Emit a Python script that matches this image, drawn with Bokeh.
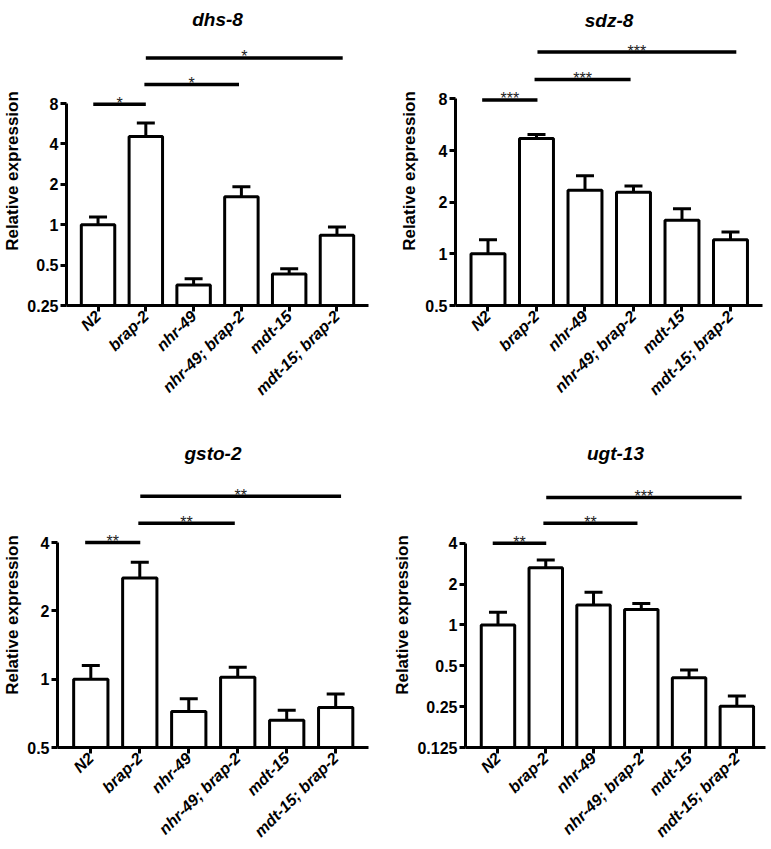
import math
from bokeh.plotting import figure
from bokeh.models import (ColumnDataSource, Range1d, FixedTicker, Whisker, TeeHead)
from bokeh.layouts import column, row
from bokeh.core.properties import value
from bokeh.embed import file_html
from bokeh.resources import INLINE

# ---------------- data ----------------
categories = ["N2", "brap-2", "nhr-49", "nhr-49; brap-2", "mdt-15", "mdt-15; brap-2"]

dhs8_mean = [1.0, 4.55, 0.356, 1.62, 0.43, 0.835]
dhs8_err_top = [1.14, 5.73, 0.395, 1.92, 0.47, 0.96]
dhs8_yticks = [0.25, 0.5, 1, 2, 4, 8]
dhs8_yticklabels = ["0.25", "0.5", "1", "2", "4", "8"]
dhs8_sig_x0 = [-0.1, 0.97, 1.0]
dhs8_sig_x1 = [1.0, 2.95, 5.12]
dhs8_sig_y = [7.9, 11.1, 17.5]
dhs8_sig_text = ["*", "*", "*"]

sdz8_mean = [1.0, 4.7, 2.35, 2.29, 1.57, 1.21]
sdz8_err_top = [1.21, 4.96, 2.85, 2.49, 1.83, 1.34]
sdz8_yticks = [0.5, 1, 2, 4, 8]
sdz8_yticklabels = ["0.5", "1", "2", "4", "8"]
sdz8_sig_x0 = [-0.12, 0.96, 1.02]
sdz8_sig_x1 = [1.02, 2.94, 5.12]
sdz8_sig_y = [7.9, 10.4, 15.0]
sdz8_sig_text = ["***", "***", "***"]

gsto2_mean = [1.0, 2.79, 0.72, 1.02, 0.66, 0.75]
gsto2_err_top = [1.15, 3.28, 0.82, 1.13, 0.73, 0.86]
gsto2_yticks = [0.5, 1, 2, 4]
gsto2_yticklabels = ["0.5", "1", "2", "4"]
gsto2_sig_x0 = [-0.115, 0.97, 1.01]
gsto2_sig_x1 = [1.01, 2.94, 5.11]
gsto2_sig_y = [4.0, 4.87, 6.4]
gsto2_sig_text = ["**", "**", "**"]

ugt13_mean = [1.0, 2.64, 1.40, 1.30, 0.408, 0.252]
ugt13_err_top = [1.24, 3.01, 1.74, 1.44, 0.466, 0.30]
ugt13_yticks = [0.125, 0.25, 0.5, 1, 2, 4]
ugt13_yticklabels = ["0.125", "0.25", "0.5", "1", "2", "4"]
ugt13_sig_x0 = [-0.11, 0.95, 1.01]
ugt13_sig_x1 = [1.01, 2.92, 5.10]
ugt13_sig_y = [4.0, 5.6, 8.7]
ugt13_sig_text = ["**", "**", "***"]

FONT = "Liberation Sans"


def make_panel(title, mean, err_top, yticks, yticklabels, sig_x0, sig_x1, sig_y, sig_text,
               width, height, y_top, x_lo, x_hi, mb_left, mb_right, mb_top, mb_bottom,
               title_standoff, title_valign, ylabel_standoff):
    x = list(range(len(categories)))
    p = figure(width=width, height=height, output_backend="svg", toolbar_location=None,
               y_axis_type="log",
               x_range=Range1d(x_lo, x_hi), y_range=Range1d(yticks[0], y_top),
               min_border_left=mb_left, min_border_right=mb_right,
               min_border_top=mb_top, min_border_bottom=mb_bottom)
    p.outline_line_color = None
    p.grid.visible = False
    p.background_fill_color = "white"
    p.border_fill_color = "white"

    p.title.text = title
    p.title.align = "center"
    p.title.vertical_align = title_valign
    p.title.text_font = FONT
    p.title.text_font_size = "19px"
    p.title.text_font_style = "bold italic"
    p.title.text_color = "black"
    p.title.standoff = title_standoff

    src = ColumnDataSource(dict(x=x, top=mean, cap=err_top,
                                bottom=[yticks[0]] * len(x)))
    p.vbar(x="x", top="top", bottom="bottom", width=0.7, source=src,
           fill_color="white", line_color="black", line_width=3)
    wh = Whisker(source=src, base="x", upper="cap", lower="top", dimension="height",
                 lower_head=None,
                 upper_head=TeeHead(size=18, line_width=3, line_color="black"),
                 line_width=3, line_color="black")
    p.add_layout(wh)

    ssrc = ColumnDataSource(dict(x0=sig_x0, x1=sig_x1, y=sig_y, t=sig_text,
                                 xm=[(a + b) / 2 for a, b in zip(sig_x0, sig_x1)]))
    p.segment(x0="x0", y0="y", x1="x1", y1="y", source=ssrc, line_color="black",
              line_width=3.5)
    p.text(x="xm", y="y", text="t", source=ssrc, text_font=value(FONT),
           text_font_size="16px", text_align="center", text_baseline="alphabetic",
           y_offset=-1, text_color="#222222")

    # x axis
    xa = p.xaxis[0]
    xa.ticker = FixedTicker(ticks=x)
    xa.major_label_overrides = {i: c for i, c in zip(x, categories)}
    xa.major_label_orientation = math.pi / 4
    xa.major_label_text_font = FONT
    xa.major_label_text_font_style = "bold italic"
    xa.major_label_text_font_size = "16px"
    xa.major_label_text_color = "black"
    xa.major_label_standoff = 2
    xa.axis_line_width = 3
    xa.axis_line_color = "black"
    xa.major_tick_line_width = 3
    xa.major_tick_line_color = "black"
    xa.major_tick_out = 6
    xa.major_tick_in = 0
    xa.minor_tick_line_color = None

    # y axis
    ya = p.yaxis[0]
    ya.ticker = FixedTicker(ticks=yticks)
    ya.major_label_overrides = {t: l for t, l in zip(yticks, yticklabels)}
    ya.bounds = (yticks[0], yticks[-1])
    ya.axis_label = "Relative expression"
    ya.axis_label_text_font = FONT
    ya.axis_label_text_font_style = "bold"
    ya.axis_label_text_font_size = "17px"
    ya.axis_label_text_color = "black"
    ya.axis_label_standoff = ylabel_standoff
    ya.major_label_text_font = FONT
    ya.major_label_text_font_style = "bold"
    ya.major_label_text_font_size = "16px"
    ya.major_label_text_color = "black"
    ya.major_label_standoff = 2
    ya.axis_line_width = 3
    ya.axis_line_color = "black"
    ya.major_tick_line_width = 3
    ya.major_tick_line_color = "black"
    ya.major_tick_out = 6
    ya.major_tick_in = 0
    ya.minor_tick_line_color = None
    return p


p1 = make_panel("dhs-8", dhs8_mean, dhs8_err_top, dhs8_yticks, dhs8_yticklabels,
                dhs8_sig_x0, dhs8_sig_x1, dhs8_sig_y, dhs8_sig_text,
                385, 420, 25.3, -0.66, 5.66, 62, 17, 36, 111, 10, "top", 2)
p2 = make_panel("sdz-8", sdz8_mean, sdz8_err_top, sdz8_yticks, sdz8_yticklabels,
                sdz8_sig_x0, sdz8_sig_x1, sdz8_sig_y, sdz8_sig_text,
                385, 420, 18.5, -0.67, 5.66, 70, 8, 33, 115, 8, "top", 3)
p3 = make_panel("gsto-2", gsto2_mean, gsto2_err_top, gsto2_yticks, gsto2_yticklabels,
                gsto2_sig_x0, gsto2_sig_x1, gsto2_sig_y, gsto2_sig_text,
                385, 429, 7.36, -0.68, 5.67, 55, 17, 62, 98, 38, "bottom", 2)
p4 = make_panel("ugt-13", ugt13_mean, ugt13_err_top, ugt13_yticks, ugt13_yticklabels,
                ugt13_sig_x0, ugt13_sig_x1, ugt13_sig_y, ugt13_sig_text,
                385, 429, 11.2, -0.68, 5.6, 80, 5, 61, 98, 38, "bottom", 2)

layout = column(row(p1, p2), row(p3, p4))
open("out.html", "w").write(file_html(layout, INLINE))
